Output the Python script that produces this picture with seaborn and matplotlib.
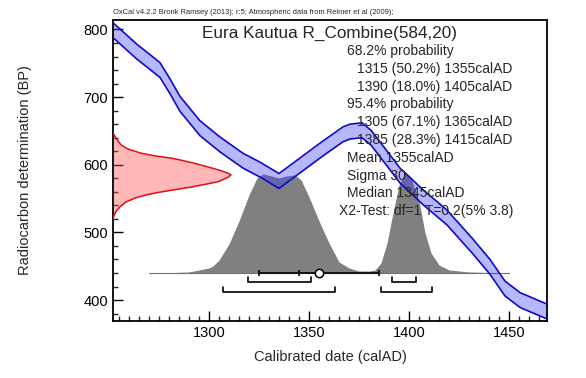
import numpy as np
import matplotlib
matplotlib.use("Agg")
from matplotlib import pyplot as plt
from matplotlib.ticker import MultipleLocator
import pandas as pd
import seaborn as sns

# calibration curve: centre of the 1 sigma band (BP) and its half width
cal_year = [1252, 1258, 1264, 1270, 1275.5, 1280.5, 1285.5, 1295.5, 1305.5, 1317, 1326,
            1335, 1345.5, 1356, 1367, 1370.5, 1376.5, 1381, 1387, 1395.5, 1399.5,
            1407, 1419, 1432, 1440.5, 1448, 1455.5, 1469]
cal_bp = [799, 783, 767, 753, 740, 716, 690, 654, 630, 606, 592,
          576, 599, 622, 645, 649, 651, 640, 617, 584, 573,
          552, 522, 479, 449, 417, 400, 383]
cal_err = [11] * len(cal_year)

# measurement 584 +/- 20 BP, shown along the y axis (relative height)
meas_bp = [647, 638, 629, 623, 617, 613, 609, 603, 597, 592, 588, 585,
           581, 575, 571, 567, 563, 559, 555, 551, 545, 538, 532, 526, 519]
meas_dens = [0.0, 0.03, 0.07, 0.13, 0.24, 0.36, 0.52, 0.67, 0.8, 0.9, 0.97, 1.0,
             0.97, 0.89, 0.78, 0.66, 0.52, 0.38, 0.27, 0.19, 0.11, 0.06, 0.03, 0.01, 0.0]

# calibrated date distribution (relative height)
post_year = [1270, 1280, 1290, 1295, 1300, 1302, 1305, 1310, 1315, 1320, 1324, 1327,
             1331, 1335, 1339, 1343, 1346, 1350, 1355, 1357, 1360, 1365, 1370, 1375,
             1380, 1383, 1386, 1389, 1392, 1395, 1398, 1401, 1405, 1408, 1411, 1415,
             1420, 1430, 1440, 1450]
post_dens = [0.0, 0.003, 0.01, 0.03, 0.05, 0.07, 0.13, 0.29, 0.52, 0.78, 0.95, 0.99,
             0.97, 0.95, 0.97, 0.98, 0.93, 0.76, 0.52, 0.43, 0.30, 0.11, 0.05, 0.02,
             0.02, 0.03, 0.1, 0.3, 0.6, 0.88, 1.0, 0.95, 0.72, 0.4, 0.2, 0.08,
             0.03, 0.01, 0.005, 0.0]

# summary
range68 = [(1319.5, 1351), (1391.5, 1403.5)]
range95 = [(1307, 1363), (1386, 1411.5)]
mean_date, sigma_date, median_date = 1355, 30, 1345

title = "Eura Kautua R_Combine(584,20)"
header = "OxCal v4.2.2 Bronk Ramsey (2013); r:5; Atmospheric data from Reimer et al (2009);"
stat_lines = [
    ("68.2% probability", 0),
    ("1315 (50.2%) 1355calAD", 1),
    ("1390 (18.0%) 1405calAD", 1),
    ("95.4% probability", 0),
    ("1305 (67.1%) 1365calAD", 1),
    ("1385 (28.3%) 1415calAD", 1),
    ("Mean 1355calAD", 0),
    ("Sigma 30", 0),
    ("Median 1345calAD", 0),
    ("X2-Test: df=1 T=0.2(5% 3.8)", -1),
]

sns.set_style("ticks")
plt.rcParams['font.family'] = ['Liberation Sans', 'DejaVu Sans']

fig = plt.figure(figsize=(5.86, 3.78), dpi=100)
ax = fig.add_axes([113 / 586, 1 - 321 / 378, 434 / 586, 301 / 378])
xmin, xmax = 1252, 1469
ax.set_xlim(xmin, xmax)
ax.set_ylim(369, 814)

# calibrated distribution
base = 440
post = pd.DataFrame({"year": post_year, "top": base + np.array(post_dens) * 148})
ax.fill_between(post["year"], base, post["top"], color="#808080", lw=0, zorder=1)
ax.plot([post_year[0], post_year[-1]], [base, base], color="#707070", lw=0.8, zorder=1)

# calibration curve band
cal = pd.DataFrame({"year": cal_year, "bp": cal_bp, "err": cal_err})
cal["lo"] = cal["bp"] - cal["err"]
cal["hi"] = cal["bp"] + cal["err"]
ax.fill_between(cal["year"], cal["lo"], cal["hi"], color=(0.2, 0.2, 1.0), alpha=0.35, lw=0, zorder=2)
sns.lineplot(data=cal, x="year", y="hi", color="#0c0cc8", lw=1.2, ax=ax, zorder=3)
sns.lineplot(data=cal, x="year", y="lo", color="#0c0cc8", lw=1.2, ax=ax, zorder=3)

# measurement on the y axis
meas = pd.DataFrame({"bp": meas_bp, "x": xmin + np.array(meas_dens) * 59})
ax.fill_betweenx(meas["bp"], xmin, meas["x"], color=(1.0, 0.3, 0.3), alpha=0.4, lw=0, zorder=2)
sns.lineplot(data=meas, x="x", y="bp", orient="y", color="#e01010", lw=1.1, ax=ax, zorder=3)

# mean / median / sigma bar
ax.hlines(base, mean_date - sigma_date, mean_date + sigma_date, color="black", lw=1.2, zorder=4)
ax.vlines([mean_date - sigma_date, median_date, mean_date + sigma_date], base - 5, base + 5,
          color="black", lw=1.2, zorder=4)
ax.plot([mean_date], [base], "o", mfc="white", mec="black", ms=6, mew=1.1, zorder=5)

# range brackets
for rng, yy in [(range68, 427), (range95, 412)]:
    for a, b in rng:
        ax.plot([a, a, b, b], [yy + 7.5, yy, yy, yy + 7.5], color="black", lw=1.2, zorder=4)

# texts
ax.text(0.499, 0.957, title, transform=ax.transAxes, ha="center", va="center", fontsize=12.3)
y0 = 1 - (51 - 20) / 301
for i, (s, ind) in enumerate(stat_lines):
    xpos = {0: 0.539, 1: 0.562, -1: 0.521}[ind]
    ax.text(xpos, y0 - i * 17.8 / 301, s, transform=ax.transAxes, ha="left", va="center", fontsize=10)
fig.text(113 / 586, 1 - 12 / 378, header, fontsize=5.4, ha="left", va="center")

ax.xaxis.set_major_locator(MultipleLocator(50))
ax.xaxis.set_minor_locator(MultipleLocator(5))
ax.yaxis.set_major_locator(MultipleLocator(100))
ax.yaxis.set_minor_locator(MultipleLocator(20))
ax.tick_params(which="major", direction="in", length=7, width=1, labelsize=10.5, colors="black")
ax.tick_params(which="minor", direction="in", length=3.5, width=1)
for sp in ax.spines.values():
    sp.set_visible(True)
    sp.set_linewidth(1.3)
    sp.set_color("black")

ax.set_xlabel("Calibrated date (calAD)", fontsize=10.5, labelpad=7)
ax.set_ylabel("Radiocarbon determination (BP)", fontsize=10.5, labelpad=37)

fig.savefig("out.png", dpi=100)
